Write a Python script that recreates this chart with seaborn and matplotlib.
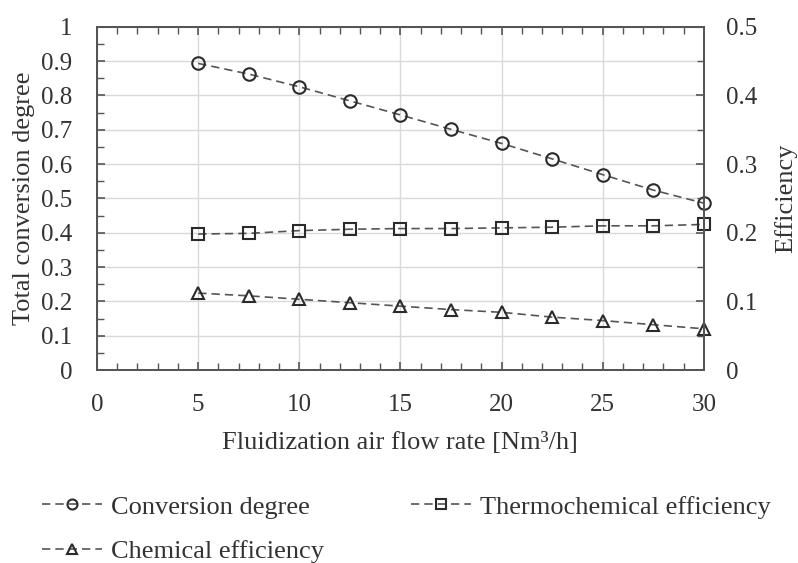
import numpy as np
import pandas as pd
import seaborn as sns
import matplotlib.pyplot as plt
from matplotlib.ticker import MultipleLocator


# -------------------------
# Data
# -------------------------

air_flow = [5, 7.5, 10, 12.5, 15, 17.5, 20, 22.5, 25, 27.5, 30]

conversion_degree = [0.893, 0.862, 0.825, 0.784, 0.743, 0.701,
                     0.660, 0.615, 0.569, 0.524, 0.486]

thermochemical_eff = [0.198, 0.199, 0.203, 0.205, 0.206, 0.206,
                      0.207, 0.208, 0.210, 0.210, 0.212]

chemical_eff = [0.112, 0.108, 0.103, 0.098, 0.093, 0.088,
                0.084, 0.077, 0.072, 0.066, 0.060]

left_ticks = [0, 0.1, 0.2, 0.3, 0.4, 0.5, 0.6, 0.7, 0.8, 0.9, 1]
left_tick_labels = ["0", "0.1", "0.2", "0.3", "0.4", "0.5",
                    "0.6", "0.7", "0.8", "0.9", "1"]
right_ticks = [0, 0.1, 0.2, 0.3, 0.4, 0.5]
right_tick_labels = ["0", "0.1", "0.2", "0.3", "0.4", "0.5"]


# -------------------------
# Style
# -------------------------

sns.set_style("white")
plt.rcParams['font.family'] = ['Liberation Serif', 'DejaVu Serif']

LINE_COLOR = "#555555"
MARK_COLOR = "#2b2b2b"
SPINE_COLOR = "#555555"
GRID_COLOR = "#d9d9d9"
TEXT_COLOR = "#333333"
TICK_FS = 18
LABEL_FS = 19

fig = plt.figure(figsize=(7.98, 5.63), dpi=100)
ax = fig.add_axes([0.1216, 0.3428, 0.7604, 0.6098])
ax2 = ax.twinx()

conv_df = pd.DataFrame({"x": air_flow, "y": conversion_degree})
thermo_df = pd.DataFrame({"x": air_flow, "y": thermochemical_eff})
chem_df = pd.DataFrame({"x": air_flow, "y": chemical_eff})

common = dict(
    x="x", y="y", color=LINE_COLOR, linestyle=(0, (5, 3)),
    linewidth=1.2, markersize=9, markerfacecolor="none",
    markeredgecolor=MARK_COLOR, markeredgewidth=1.5, clip_on=False
)

sns.lineplot(data=conv_df, marker="o", ax=ax,
             label="Conversion degree", **common)
sns.lineplot(data=thermo_df, marker="s", ax=ax2,
             label="Thermochemical efficiency", **common)
sns.lineplot(data=chem_df, marker="^", ax=ax2,
             label="Chemical efficiency", **common)


# -------------------------
# Axes
# -------------------------

ax.set_xlim(0, 30)
ax.set_ylim(0, 1)
ax2.set_ylim(0, 0.5)

ax.set_xticks([0, 5, 10, 15, 20, 25, 30])
ax.set_xticklabels(["0", "5", "10", "15", "20", "25", "30"])
ax.xaxis.set_minor_locator(MultipleLocator(1))
ax.set_yticks(left_ticks)
ax.set_yticklabels(left_tick_labels)
ax.yaxis.set_minor_locator(MultipleLocator(0.05))
ax2.set_yticks(right_ticks)
ax2.set_yticklabels(right_tick_labels)
ax2.yaxis.set_minor_locator(MultipleLocator(0.05))

ax.grid(True, which="major", color=GRID_COLOR, linewidth=1.0)
ax.set_axisbelow(True)
ax2.grid(False)

ax.set_xlabel("Fluidization air flow rate [Nm³/h]", fontsize=LABEL_FS,
              labelpad=12, color=TEXT_COLOR)
ax.set_ylabel("Total conversion degree", fontsize=LABEL_FS, labelpad=4,
              color=TEXT_COLOR)
ax2.set_ylabel("Efficiency", fontsize=LABEL_FS, labelpad=12,
               color=TEXT_COLOR)

ax.tick_params(axis="x", which="both", direction="in", top=True,
               bottom=True, color=SPINE_COLOR, labelsize=TICK_FS, pad=17,
               labelcolor=TEXT_COLOR)
ax.tick_params(axis="x", which="major", length=6, width=1.2)
ax.tick_params(axis="x", which="minor", length=5, width=1.0)
ax.tick_params(axis="y", which="both", direction="in", left=True,
               right=False, color=SPINE_COLOR, labelsize=TICK_FS, pad=18,
               labelcolor=TEXT_COLOR)
ax.tick_params(axis="y", which="major", length=6, width=1.2)
ax.tick_params(axis="y", which="minor", length=5, width=1.0)
ax2.tick_params(axis="y", which="both", direction="in", right=True,
                color=SPINE_COLOR, labelsize=TICK_FS, pad=16,
                labelcolor=TEXT_COLOR)
ax2.tick_params(axis="y", which="major", length=6, width=1.2)
ax2.tick_params(axis="y", which="minor", length=5, width=1.0)

for a in (ax, ax2):
    for spine in a.spines.values():
        spine.set_visible(True)
        spine.set_color(SPINE_COLOR)
        spine.set_linewidth(1.4)


# -------------------------
# Legend
# -------------------------

h1, l1 = ax.get_legend_handles_labels()
h2, l2 = ax2.get_legend_handles_labels()
ax.get_legend().remove()
ax2.get_legend().remove()

# column-wise filling: conversion + chemical in col 1, thermochemical in col 2
fig.legend(
    [h1[0], h2[1], h2[0]], [l1[0], l2[1], l2[0]],
    loc="upper left", bbox_to_anchor=(0.0395, 0.1394),
    ncol=2, frameon=False, fontsize=LABEL_FS, markerscale=0.8,
    handlelength=2.27, handletextpad=0.34, columnspacing=3.3,
    labelspacing=0.81, borderaxespad=0, labelcolor=TEXT_COLOR
)

fig.savefig("out.png", dpi=100)
plt.close(fig)
